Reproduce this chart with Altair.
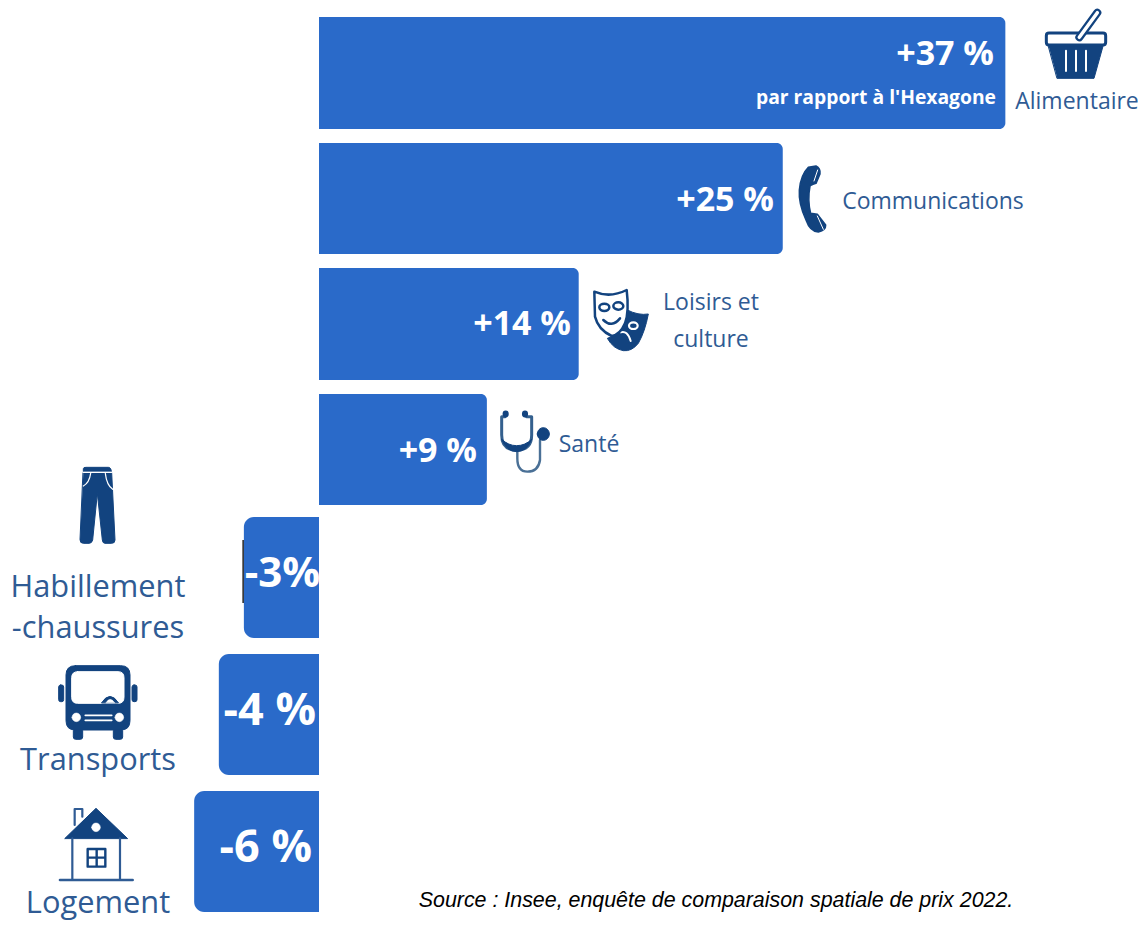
import re
import altair as alt
import pandas as pd

# --- values
categories = ["Alimentaire", "Communications", "Loisirs et culture", "Santé",
              "Habillement-chaussures", "Transports", "Logement"]
value_labels = ["+37 %", "+25 %", "+14 %", "+9 %", "-3%", "-4 %", "-6 %"]
# drawn bar lengths, on the scale of the positive bars (the source's negative bars are longer than labelled)
drawn_values = [37.0, 25.0, 14.0, 9.05, -4.05, -5.4, -6.73]

# --- layout (page pixels of the reference)
PX_PER_UNIT = 18.55
ZERO_X = 319
W, H = 1130, 917
row_top = [17, 143, 268, 394, 517, 654, 791]
row_bottom = [129, 254, 380, 505, 638, 775, 912]

BLUE = "#2a6ac9"
NAVY = "#12437f"
LABEL = "#2f5b94"
WHITE = "#ffffff"
NONE = "transparent"


def pth(d, ox, oy, ax, ay, z=3.0):
    """Turn a path noted on a zoomed crop into pixels around an icon's anchor."""
    toks = re.findall(r"[A-Za-z]|-?\d+\.?\d*", d)
    out, is_x = [], True
    for t in toks:
        if t.isalpha():
            out.append(t)
            is_x = True
        else:
            v = float(t) / z + (ox - ax if is_x else oy - ay)
            out.append(f"{v:.2f}")
            is_x = not is_x
    return " ".join(out)


def ell(cx, cy, rx, ry):
    k = 0.5523
    return (f"M{cx-rx} {cy} C{cx-rx} {cy-k*ry} {cx-k*rx} {cy-ry} {cx} {cy-ry} "
            f"C{cx+k*rx} {cy-ry} {cx+rx} {cy-k*ry} {cx+rx} {cy} "
            f"C{cx+rx} {cy+k*ry} {cx+k*rx} {cy+ry} {cx} {cy+ry} "
            f"C{cx-k*rx} {cy+ry} {cx-rx} {cy+k*ry} {cx-rx} {cy} Z")


def rrect(x0, y0, x1, y1, r):
    return (f"M{x0+r} {y0} L{x1-r} {y0} Q{x1} {y0} {x1} {y0+r} L{x1} {y1-r} Q{x1} {y1} {x1-r} {y1} "
            f"L{x0+r} {y1} Q{x0} {y1} {x0} {y1-r} L{x0} {y0+r} Q{x0} {y0} {x0+r} {y0} Z")


icons = {
    "basket": ((980, 0), [
        ("M205 135 L370 135 L342 235 L232 235 Z", NAVY, NAVY, 1),
        ("M258 152 L258 213 M288 152 L288 213 M318 152 L318 213", NONE, WHITE, 2),
        (rrect(199, 99, 377, 135, 8), WHITE, NAVY, 3),
        ("M298 112 L352 38", NONE, NAVY, 8),
        ("M298 112 L352 38", NONE, WHITE, 3.5),
    ]),
    "phone": ((780, 150), [
        ("M85 52 L108 48 Q122 55 120 72 L108 100 Q92 105 90 108 Q82 150 92 190 L112 193 L137 225 "
         "Q138 240 115 246 Q90 245 78 210 Q55 160 58 120 Q62 75 85 52 Z", NAVY, NAVY, 1.5),
        ("M113 60 L102 93 M112 198 L130 238", NONE, WHITE, 1),
    ]),
    "masks": ((570, 275), [
        ("M172 105 Q205 122 235 117 Q225 170 205 205 Q185 230 160 227 Q130 222 112 190 L130 183 Q160 170 172 105 Z",
         NAVY, NAVY, 1),
        (ell(190, 152, 13, 10), NONE, WHITE, 2.2),
        ("M152 172 Q172 165 182 198", NONE, WHITE, 2),
        ("M73 50 Q120 70 170 45 Q178 110 165 145 Q150 180 125 183 Q85 165 75 125 Z", WHITE, NAVY, 2.5),
        (ell(103, 97, 15, 11), NONE, NAVY, 2.5),
        (ell(145, 93, 15, 11), NONE, NAVY, 2.5),
        ("M100 135 Q125 160 150 130", NONE, NAVY, 2.5),
    ]),
    "stethoscope": ((490, 400), [
        ("M45 50 L35 50 L35 105 Q35 150 80 150 Q125 150 125 105 L125 50 L110 50", NONE, "#34608e", 3),
        ("M82 155 L82 175 Q82 215 112 215 Q145 215 150 180 L150 120", NONE, "#4a7096", 2.4),
        ("M35 118 Q50 155 80 155 Q110 155 125 118 Q105 137 80 137 Q55 137 35 118 Z", NAVY, NAVY, 1),
        (ell(47, 42, 7, 8), NAVY, NAVY, 1.5),
        (ell(105, 42, 7, 8), NAVY, NAVY, 1.5),
        (ell(160, 102, 18, 19), NAVY, NAVY, 1),
    ]),
    "trousers": ((0, 460), [
        ("M250 38 L335 38 L345 240 Q345 250 335 250 L315 250 Q308 250 307 240 L292 100 L278 240 "
         "Q275 250 268 250 L250 250 Q240 250 240 240 Z", NAVY, NAVY, 1),
        ("M250 34 L250 26 Q250 22 258 22 L325 22 Q333 22 334 34 Z", NAVY, NAVY, 1),
        ("M250 37 L335 37 M250 78 Q268 68 272 40 M338 88 Q320 75 316 40", NONE, WHITE, 1.2),
    ]),
    "bus": ((0, 650), [
        (rrect(176, 105, 191, 155, 6), NAVY, NAVY, 1),
        (rrect(396, 105, 411, 155, 6), NAVY, NAVY, 1),
        (rrect(220, 235, 248, 268, 7), NAVY, NAVY, 1),
        (rrect(340, 235, 368, 268, 7), NAVY, NAVY, 1),
        (rrect(198, 47, 390, 240, 28), NAVY, NAVY, 1),
        (rrect(215, 65, 372, 160, 18), WHITE, WHITE, 1),
        ("M305 158 Q330 120 355 158 Z", NAVY, NAVY, 1),
        ("M318 158 Q330 138 344 158 Z", WHITE, WHITE, 0.5),
        (ell(229, 202, 13, 13), WHITE, WHITE, 0.5),
        (ell(358, 202, 13, 13), WHITE, WHITE, 0.5),
        ("M256 196 L335 196 M256 211 L335 211", NONE, WHITE, 1.8),
    ]),
    "house": ((0, 650), [
        ("M195 565 L288 475 L382 565 Z", NAVY, NAVY, 1),
        (ell(288, 532, 13, 13), WHITE, WHITE, 0.5),
        ("M224 525 L224 477 L247 477 L247 500", NONE, "#2f5b94", 2.2),
        ("M217 565 L217 690 M360 565 L360 690", NONE, "#2f5b94", 2.2),
        ("M180 690 L398 690", NONE, "#2f5b94", 2.6),
        ("M263 597 L316 597 L316 650 L263 650 Z M290 597 L290 650 M263 623 L316 623", NONE, NAVY, 2.4),
    ]),
}
# icon anchors on the page
icon_anchor = {"basket": (1076, 45), "phone": (813, 201), "masks": (621, 320), "stethoscope": (523, 440),
               "trousers": (97, 505), "bus": (98, 703), "house": (96, 845)}

icon_rows = []
for name, (origin, parts) in icons.items():
    ax, ay = icon_anchor[name]
    for d, fill, stroke, sw in parts:
        icon_rows.append(dict(px=ax - 8, py=ay - 8, shape=pth(d, origin[0], origin[1], ax, ay),
                              fill=fill, stroke=stroke, sw=sw))

# category labels as drawn
side_labels = [
    ("Alimentaire", 1077, 102, 23),
    ("Communications", 933, 202, 23),
    ("Loisirs et", 711, 303, 23),
    ("culture", 711, 340, 23),
    ("Santé", 589, 445, 23),
    ("Habillement", 98, 588, 30.8),
    ("-chaussures", 98, 629, 30.8),
    ("Transports", 98, 761, 30.8),
    ("Logement", 98, 904, 30.8),
]
value_pos = [(994, 55, 34), (774, 201, 34), (571, 325, 34), (477, 452, 34), (320, 574, 42), (316, 711, 45), (312, 848, 45)]

bars = pd.DataFrame({
    "category": categories,
    "value": drawn_values,
    "zero": [0] * 7,
    "top": [t - 8 for t in row_top],
    "bottom": [b - 8 for b in row_bottom],
})

x_scale = alt.Scale(domain=[-(ZERO_X - 8) / PX_PER_UNIT, (W - (ZERO_X - 8)) / PX_PER_UNIT], nice=False, zero=False)
y_scale = alt.Scale(domain=[0, H], range=[0, H], nice=False, zero=False)


def bar_layer(df, **corners):
    return alt.Chart(df).mark_bar(color=BLUE, **corners).encode(
        x=alt.X("value:Q", scale=x_scale, axis=None),
        x2="zero:Q",
        y=alt.Y("top:Q", scale=y_scale, axis=None),
        y2="bottom:Q",
    )


pos = bar_layer(bars[bars.value > 0], cornerRadiusTopRight=6, cornerRadiusBottomRight=6)
neg = bar_layer(bars[bars.value < 0], cornerRadiusTopLeft=10, cornerRadiusBottomLeft=10)

caret = alt.Chart(pd.DataFrame({"x": [-4.09], "a": [532], "b": [595]})).mark_rule(color="#222222", strokeWidth=1.5).encode(
    x=alt.X("x:Q", scale=x_scale, axis=None),
    y=alt.Y("a:Q", scale=y_scale, axis=None),
    y2="b:Q",
)

icon_layer = alt.Chart(pd.DataFrame(icon_rows)).mark_point(
    filled=False, opacity=1, size=4, strokeCap="round", strokeJoin="round"
).encode(
    x=alt.X("px:Q", scale=None, axis=None),
    y=alt.Y("py:Q", scale=None, axis=None),
    shape=alt.Shape("shape:N", scale=None, legend=None),
    fill=alt.Fill("fill:N", scale=None, legend=None),
    stroke=alt.Stroke("stroke:N", scale=None, legend=None),
    strokeWidth=alt.StrokeWidth("sw:Q", scale=None, legend=None),
)


def text_layer(rows, **mark):
    return alt.Chart(pd.DataFrame(rows)).mark_text(baseline="middle", **mark).encode(
        x=alt.X("px:Q", scale=None, axis=None),
        y=alt.Y("py:Q", scale=None, axis=None),
        text="t:N",
        size=alt.Size("s:Q", scale=None, legend=None),
    )


vals = text_layer(
    [dict(t=l, px=p[0] - 8, py=p[1] - 8, s=p[2]) for l, p in zip(value_labels, value_pos)],
    align="right", font="Open Sans", fontWeight="bold", color=WHITE)
sub = text_layer(
    [dict(t="par rapport à l'Hexagone", px=996 - 8, py=98 - 8, s=19.3)],
    align="right", font="Open Sans", fontWeight="bold", color=WHITE)
labels = text_layer(
    [dict(t=t, px=x - 8, py=y - 8, s=s) for t, x, y, s in side_labels],
    align="center", font="Open Sans", color=LABEL)
source = text_layer(
    [dict(t="Source : Insee, enquête de comparaison spatiale de prix 2022.", px=716 - 8, py=901 - 8, s=21.4)],
    align="center", font="Liberation Sans", fontStyle="italic", color="#000000")

chart = alt.layer(pos, neg, caret, icon_layer, vals, sub, labels, source).resolve_scale(
    x="independent", y="independent"
).properties(width=W, height=H, padding=0, autosize=alt.AutoSizeParams(type="none")).configure_view(stroke=None)

chart.save("out.html", embed_options={"renderer": "svg", "actions": False})
